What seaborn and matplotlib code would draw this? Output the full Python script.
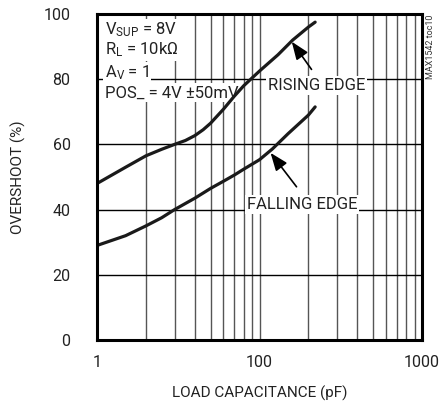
import matplotlib
matplotlib.use("Agg")
import matplotlib.pyplot as plt
import seaborn as sns
import pandas as pd
from matplotlib.ticker import NullLocator

# ---- data (x in axis units; the first decade is labelled "1") ----
rising_x = [10, 15, 20, 25, 30, 35, 40, 45, 50, 60, 70, 80, 100, 130, 160, 200, 220]
rising_y = [48, 53, 56.5, 58.5, 60, 61.2, 62.7, 64.5, 66.5, 70.8, 74.8, 78, 82.5, 87.5, 92, 96, 97.5]
falling_x = [10, 15, 20, 25, 30, 40, 50, 60, 70, 80, 100, 120, 150, 200, 220]
falling_y = [29, 32, 35, 37.5, 40, 43.5, 46.5, 48.7, 50.6, 52.4, 55.3, 58.6, 63.3, 69, 71.5]
xtick_vals = [10, 100, 1000]
xtick_labels = ["1", "100", "1000"]
ytick_vals = [0, 20, 40, 60, 80, 100]

sns.set_theme(style="white")
FONT = ["Roboto", "DejaVu Sans"]
plt.rcParams["font.family"] = FONT
plt.rcParams["mathtext.fontset"] = "custom"
plt.rcParams["mathtext.rm"] = "Roboto"
plt.rcParams["mathtext.it"] = "Roboto"

df = pd.concat([
    pd.DataFrame({"x": rising_x, "y": rising_y, "s": "RISING EDGE"}),
    pd.DataFrame({"x": falling_x, "y": falling_y, "s": "FALLING EDGE"}),
])

fig = plt.figure(figsize=(4.4, 4.03), dpi=100)
ax = fig.add_axes([97/440, 1-340/403, 325/440, 326/403])

sns.lineplot(data=df, x="x", y="y", units="s", estimator=None, sort=False,
             color="#1a1a1a", linewidth=2.3, ax=ax, legend=False, zorder=5)

ax.set_xscale("log")
ax.set_xlim(10, 1000)
ax.set_ylim(0, 100)

# grid
for dec in (10, 100):
    for k in range(1, 10):
        v = dec * k
        if 10 < v < 1000:
            ax.axvline(v, color="#555555", linewidth=1.0, zorder=1)
for v in (20, 40, 60, 80):
    ax.axhline(v, color="black", linewidth=1.0, zorder=1)

ax.set_xticks(xtick_vals)
ax.set_xticklabels(xtick_labels)
ax.xaxis.set_minor_locator(NullLocator())
ax.set_yticks(ytick_vals)
ax.tick_params(axis="both", length=0, labelsize=11.5, colors="#222222")
ax.tick_params(axis="y", pad=19)
ax.tick_params(axis="x", pad=11)

ax.set_xlabel("LOAD CAPACITANCE (pF)", fontsize=11, labelpad=11, color="#222222")
ax.set_ylabel("OVERSHOOT (%)", fontsize=11, labelpad=13, color="#222222")

for sp in ax.spines.values():
    sp.set_linewidth(2.2)
    sp.set_color("black")
    sp.set_zorder(6)

box = dict(facecolor="white", edgecolor="none", pad=1.5)
cond = [r"V$_{\mathrm{SUP}}$ = 8V", r"R$_{\mathrm{L}}$ = 10k$\Omega$",
        r"A$_{\mathrm{V}}$ = 1", "POS_ = 4V \u00b150mV"]
ys = [0.951, 0.89, 0.819, 0.758]
for t, yy in zip(cond, ys):
    ax.text(0.025, yy, t, transform=ax.transAxes, fontsize=12, va="center",
            ha="left", bbox=box, zorder=4, color="#222222")

arr = dict(arrowstyle="-|>,head_length=0.9,head_width=0.35", color="black",
           linewidth=1.2, shrinkA=0, shrinkB=0)
ax.annotate("", xy=(158, 91.5), xytext=(209, 83), arrowprops=arr, zorder=6)
ax.text(225, 78.2, "RISING EDGE", fontsize=12, ha="center", va="center",
        bbox=box, zorder=4, color="#222222")
ax.annotate("", xy=(117, 57.4), xytext=(169, 47), arrowprops=arr, zorder=6)
ax.text(182, 41.7, "FALLING EDGE", fontsize=12, ha="center", va="center",
        bbox=box, zorder=4, color="#222222")

fig.text(430/440, 1-47/403, "MAX1542 toc10", rotation=90, fontsize=6.5,
         ha="center", va="center", color="#333333")

fig.savefig("out.png", dpi=100)
